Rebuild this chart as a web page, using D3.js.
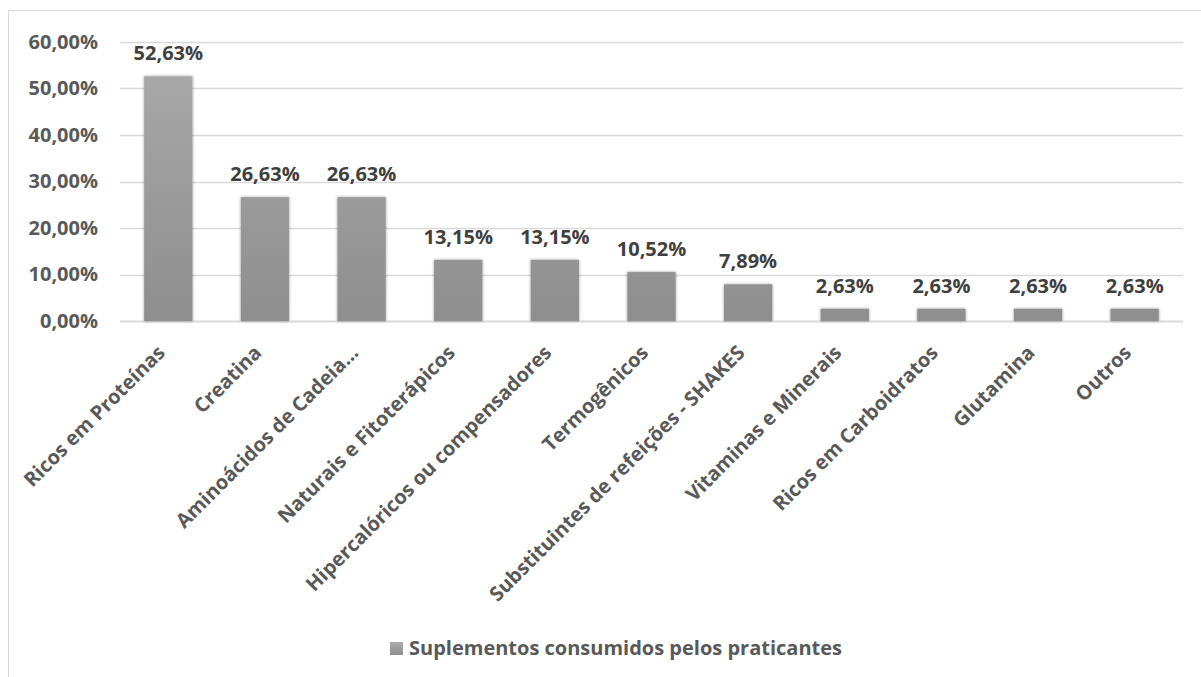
<!DOCTYPE html>
<html>
<head>
<meta charset="utf-8">
<script src="https://cdn.jsdelivr.net/npm/d3@7"></script>
<style>
  body { margin: 0; background: #fff; }
  text { font-family: "Open Sans", sans-serif; font-weight: bold; }
</style>
</head>
<body>
<div id="grafico"></div>
<script>
// dados do grafico
var categorias = ["Ricos em Proteínas", "Creatina", "Aminoácidos de Cadeia...", "Naturais e Fitoterápicos",
  "Hipercalóricos ou compensadores", "Termogênicos", "Substituintes de refeições - SHAKES",
  "Vitaminas e Minerais", "Ricos em Carboidratos", "Glutamina", "Outros"];
var valores = [52.63, 26.63, 26.63, 13.15, 13.15, 10.52, 7.89, 2.63, 2.63, 2.63, 2.63];
var rotulos = ["52,63%", "26,63%", "26,63%", "13,15%", "13,15%", "10,52%", "7,89%", "2,63%", "2,63%", "2,63%", "2,63%"];
var ticksY = [0, 10, 20, 30, 40, 50, 60];
var nomeSerie = "Suplementos consumidos pelos praticantes";

var W = 1201, H = 677;
var margem = {top: 42, right: 18, bottom: 356, left: 120},
    largura = W - margem.left - margem.right,
    altura = H - margem.top - margem.bottom;

var svg = d3.select("#grafico").append("svg")
    .attr("width", W).attr("height", H);

// moldura
svg.append("line").attr("x1", 8.5).attr("x2", 8.5).attr("y1", 10).attr("y2", H)
  .attr("stroke", "#d9d9d9");
svg.append("line").attr("x1", 8).attr("x2", W).attr("y1", 10.5).attr("y2", 10.5)
  .attr("stroke", "#d9d9d9");

var defs = svg.append("defs");
var grad = defs.append("linearGradient").attr("id", "gradBarra")
  .attr("gradientUnits", "userSpaceOnUse")
  .attr("x1", 0).attr("x2", 0)
  .attr("y1", 0).attr("y2", H - margem.top - margem.bottom);
grad.append("stop").attr("offset", "0%").attr("stop-color", "#ababab");
grad.append("stop").attr("offset", "100%").attr("stop-color", "#8e8e8e");

var gl = defs.append("linearGradient").attr("id", "gradLeg").attr("x1", 0).attr("y1", 0).attr("x2", 0).attr("y2", 1);
gl.append("stop").attr("offset", "0%").attr("stop-color", "#ababab");
gl.append("stop").attr("offset", "100%").attr("stop-color", "#8e8e8e");

var sombra = defs.append("filter").attr("id", "sombra")
  .attr("x", "-20%").attr("y", "-20%").attr("width", "140%").attr("height", "140%");
sombra.append("feGaussianBlur").attr("in", "SourceAlpha").attr("stdDeviation", 1.8).attr("result", "b");
sombra.append("feComponentTransfer").attr("in", "b").attr("result", "s")
  .append("feFuncA").attr("type", "linear").attr("slope", 0.4);
var mg = sombra.append("feMerge");
mg.append("feMergeNode").attr("in", "s");
mg.append("feMergeNode").attr("in", "SourceGraphic");

var g = svg.append("g").attr("transform", "translate(" + margem.left + "," + margem.top + ")");

var x = d3.scaleBand().domain(categorias).range([0, largura]).paddingInner(0.5).paddingOuter(0.25);
var y = d3.scaleLinear().domain([0, 60]).range([altura, 0]);

// linhas de grade
g.selectAll(".grade").data(ticksY).enter().append("line")
  .attr("x1", 0).attr("x2", largura)
  .attr("y1", function(d) { return Math.round(y(d)) + 0.5; })
  .attr("y2", function(d) { return Math.round(y(d)) + 0.5; })
  .attr("stroke", "#d9d9d9").attr("stroke-width", function(d) { return d === 0 ? 2 : 1.5; });

// eixo Y
var eixoY = g.append("g").call(d3.axisLeft(y).tickValues(ticksY).tickSize(0).tickPadding(22)
  .tickFormat(function(d) { return d3.format(".2f")(d).replace(".", ",") + "%"; }));
eixoY.select(".domain").remove();
eixoY.selectAll("text").attr("fill", "#595959").style("font-size", "20px");

// barras
g.selectAll(".barra").data(valores).enter().append("rect")
  .attr("x", function(d, i) { return x(categorias[i]); })
  .attr("y", function(d) { return y(d); })
  .attr("width", x.bandwidth())
  .attr("height", function(d) { return y(0) - y(d); })
  .attr("fill", "url(#gradBarra)")
  .attr("filter", "url(#sombra)");

// rotulos de dados
g.selectAll(".rotulo").data(valores).enter().append("text")
  .attr("x", function(d, i) { return x(categorias[i]) + x.bandwidth() / 2; })
  .attr("y", function(d) { return y(d) - 16; })
  .attr("text-anchor", "middle")
  .attr("fill", "#404040").style("font-size", "20px")
  .text(function(d, i) { return rotulos[i]; });

// eixo X
var eixoX = g.append("g").attr("transform", "translate(0," + altura + ")")
  .call(d3.axisBottom(x).tickSize(0));
eixoX.select(".domain").remove();
eixoX.selectAll("text")
  .attr("fill", "#595959").style("font-size", "20px")
  .attr("text-anchor", "end")
  .attr("dy", "0.35em")
  .attr("transform", "translate(-7,28) rotate(-45)")
  .attr("y", 0).attr("x", 0);

// legenda
var leg = svg.append("g").attr("transform", "translate(390,648)");
leg.append("rect").attr("x", 0).attr("y", -6).attr("width", 13).attr("height", 13)
  .attr("fill", "url(#gradLeg)");
leg.append("text").attr("x", 19).attr("y", 0).attr("dy", "0.35em")
  .attr("fill", "#595959").style("font-size", "20px")
  .text(nomeSerie);
</script>
</body>
</html>
